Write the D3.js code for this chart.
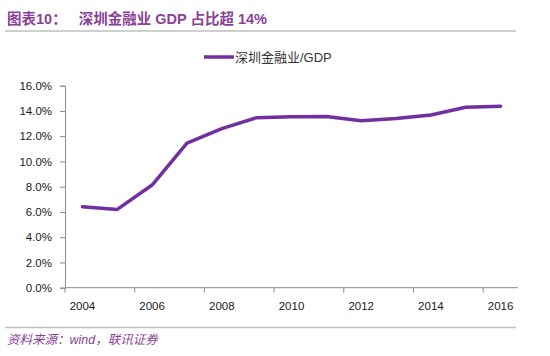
<!DOCTYPE html>
<html><head><meta charset="utf-8">
<script src="https://cdn.jsdelivr.net/npm/d3@7"></script>
<style>body{margin:0;background:#fff}svg{display:block}</style>
</head><body><svg id="c" width="550" height="356"></svg>
<script>
const years = [2004,2005,2006,2007,2008,2009,2010,2011,2012,2013,2014,2015,2016];
const share = [6.42,6.2,8.13,11.45,12.6,13.47,13.55,13.56,13.23,13.4,13.68,14.29,14.38];
const yTicks = [0,2,4,6,8,10,12,14,16];
const xLabelYears = [2004,2006,2008,2010,2012,2014,2016];
const titleText = "图表10：   深圳金融业 GDP 占比超 14%";
const legendText = "深圳金融业/GDP";
const sourceText = "资料来源：wind，联讯证券";

const svg = d3.select("#c");
const font = "'Liberation Sans', 'Noto Sans CJK SC', sans-serif";
const purple = "#7030A0";
const pLeft = 65, pRight = 518, pTop = 85.7, pBottom = 287.7;

// header
svg.append("text").attr("x",7).attr("y",24).attr("font-family",font).attr("font-size",14.5)
  .attr("font-weight","bold").attr("fill","#8B3F98").attr("xml:space","preserve").text(titleText);
svg.append("line").attr("x1",5).attr("x2",516).attr("y1",31).attr("y2",31).attr("stroke","#BFBFBF").attr("stroke-width",1.5);

// scales
const x = d3.scaleBand().domain(years).range([pLeft,pRight]);
const y = d3.scaleLinear().domain([0,16]).range([pBottom,pTop]);

// y axis
const ya = svg.append("g").attr("transform",`translate(${pLeft},0)`)
  .call(d3.axisLeft(y).tickValues(yTicks).tickSize(5).tickPadding(8).tickFormat(d=>d.toFixed(1)+"%"));
ya.select(".domain").attr("stroke","#8C8C8C");
ya.selectAll(".tick line").attr("stroke","#8C8C8C");
ya.selectAll("text").attr("font-family",font).attr("font-size",11.5).attr("fill","#1a1a1a");

// x axis
const xa = svg.append("g").attr("transform",`translate(0,${pBottom})`)
  .call(d3.axisBottom(x).tickSize(0).tickPadding(14).tickFormat(d=>xLabelYears.includes(d)?d:""));
xa.select(".domain").attr("stroke","#8C8C8C").attr("d",`M${pLeft},0H${pRight}`);
xa.selectAll("text").attr("font-family",font).attr("font-size",11.5).attr("fill","#1a1a1a");
// boundary ticks every 2 categories
const bounds = years.filter((d,i)=>i%2===0).map(d=>x(d));
svg.append("g").selectAll("line").data(bounds).join("line")
  .attr("x1",d=>d).attr("x2",d=>d).attr("y1",pBottom).attr("y2",pBottom+5).attr("stroke","#8C8C8C");

// line
const line = d3.line().x((d,i)=>x(years[i])+x.bandwidth()/2).y(d=>y(d));
svg.append("path").datum(share).attr("d",line).attr("fill","none")
  .attr("stroke",purple).attr("stroke-width",3.5).attr("stroke-linejoin","round").attr("stroke-linecap","round");

// legend
svg.append("line").attr("x1",204).attr("x2",234).attr("y1",57).attr("y2",57).attr("stroke",purple).attr("stroke-width",3.5);
svg.append("text").attr("x",235).attr("y",62).attr("font-family",font).attr("font-size",13).attr("fill","#333").text(legendText);

// footer
svg.append("line").attr("x1",5).attr("x2",516).attr("y1",327.5).attr("y2",327.5).attr("stroke","#BFBFBF").attr("stroke-width",1.5);
svg.append("text").attr("x",7).attr("y",344).attr("font-family",font).attr("font-size",12.5)
  .attr("font-style","italic").attr("fill","#8B3F98").text(sourceText);
</script></body></html>
